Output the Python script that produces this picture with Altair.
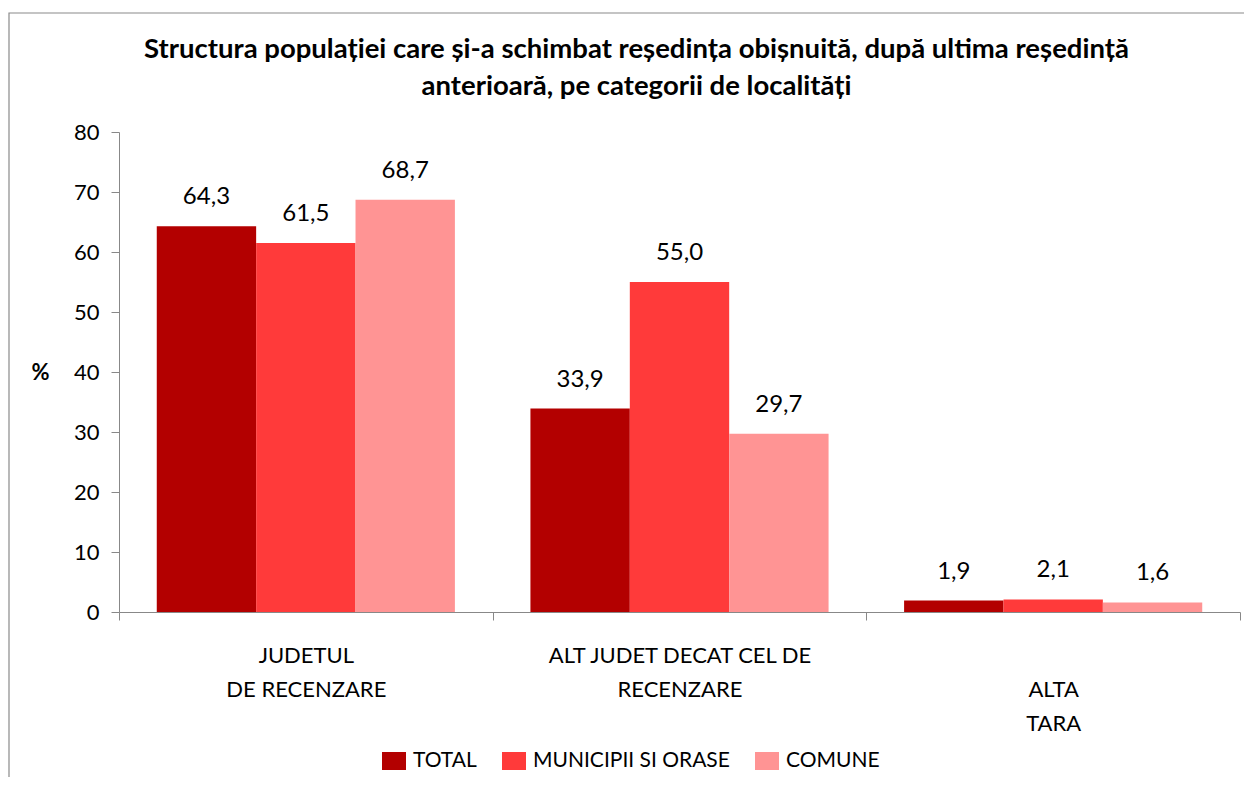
import json
import altair as alt
import pandas as pd

# ---- data ----
categories = ["JUDETUL DE RECENZARE", "ALT JUDET DECAT CEL DE RECENZARE", "ALTA TARA"]
category_lines = [["JUDETUL", "DE RECENZARE"],
                  ["ALT JUDET DECAT CEL DE", "RECENZARE"],
                  ["\u00a0", "ALTA", "TARA"]]
series = ["TOTAL", "MUNICIPII SI ORASE", "COMUNE"]
total = [64.3, 33.9, 1.9]
municipii = [61.5, 55.0, 2.1]
comune = [68.7, 29.7, 1.6]
colors = ["#B30000", "#FF3A3A", "#FF9494"]
y_ticks = [0, 10, 20, 30, 40, 50, 60, 70, 80]
title_lines = ["Structura populației care și-a schimbat reședința obișnuită, după ultima reședință",
               "anterioară, pe categorii de localități"]

rows = []
for s, vals in zip(series, [total, municipii, comune]):
    for c, v in zip(categories, vals):
        rows.append({"categorie": c, "serie": s, "valoare": v})
df = pd.DataFrame(rows)

# multi-line axis labels
label_expr = "''"
for c, lines in reversed(list(zip(categories, category_lines))):
    label_expr = f"datum.value === {json.dumps(c)} ? {json.dumps(lines)} : ({label_expr})"

FONT = "Lato"
GRAY = "#888888"

x_enc = alt.X("categorie:N", sort=categories,
              scale=alt.Scale(paddingInner=0, paddingOuter=0),
              axis=alt.Axis(title=None, labelAngle=0, tickBand="extent", tickSize=8,
                            tickColor=GRAY, domainColor=GRAY, labelFontSize=22,
                            labelColor="black", labelLineHeight=34, labelPadding=25,
                            labelBaseline="top", labelLimit=400, labelExpr=label_expr,
                            grid=False))
xo_enc = alt.XOffset("serie:N", sort=series,
                     scale=alt.Scale(paddingInner=0, paddingOuter=0.38))
y_enc = alt.Y("valoare:Q", scale=alt.Scale(domain=[0, 80], nice=False),
              axis=alt.Axis(title="%", titleAngle=0, titleX=-79, titleY=240,
                            titleAlign="center", titleBaseline="middle",
                            titleFontSize=22, titleFontWeight="bold", titleColor="black",
                            values=y_ticks, tickSize=8, tickColor=GRAY, domainColor=GRAY,
                            labelFontSize=22, labelColor="black", labelPadding=12,
                            grid=False))
color_enc = alt.Color("serie:N", sort=series,
                      scale=alt.Scale(domain=series, range=colors),
                      legend=alt.Legend(title=None, orient="none", direction="horizontal",
                                        legendX=263, legendY=617,
                                        symbolType="M-1,-0.75H1V0.75H-1Z",
                                        symbolSize=576, symbolStrokeWidth=0,
                                        symbolOpacity=1,
                                        labelFontSize=21, labelColor="black",
                                        labelOffset=7, columnPadding=25, padding=0,
                                        labelLimit=400))

base = alt.Chart(df)
bars = base.mark_bar(strokeWidth=0).encode(
    x=x_enc, xOffset=xo_enc, y=y_enc, color=color_enc)
labels = base.transform_calculate(
    lbl="replace(format(datum.valoare, '.1f'), '.', ',')"
).mark_text(baseline="alphabetic", dy=-22, fontSize=24, color="black", font=FONT).encode(
    x=alt.X("categorie:N", sort=categories), xOffset=alt.XOffset("serie:N", sort=series),
    y="valoare:Q", text="lbl:N")

border = alt.Chart(pd.DataFrame({"k": [0]})).mark_rect(
    fillOpacity=0, stroke="#8a8a8a", strokeWidth=1.2).encode(
    x=alt.value(-110), x2=alt.value(1150), y=alt.value(-119), y2=alt.value(680))

chart = alt.layer(border, bars, labels).properties(
    width=1121, height=480,
    title=alt.TitleParams(text=title_lines, fontSize=27.5, font=FONT, fontWeight="bold",
                          color="black", lineHeight=37, anchor="middle", dx=-43,
                          dy=108, offset=20),
    autosize=alt.AutoSizeParams(type="none"),
    padding={"left": 111, "top": 124, "right": 4, "bottom": 165},
).configure(font=FONT).configure_view(stroke=None)

chart.save("out.html", embed_options={"renderer": "svg", "actions": False})
